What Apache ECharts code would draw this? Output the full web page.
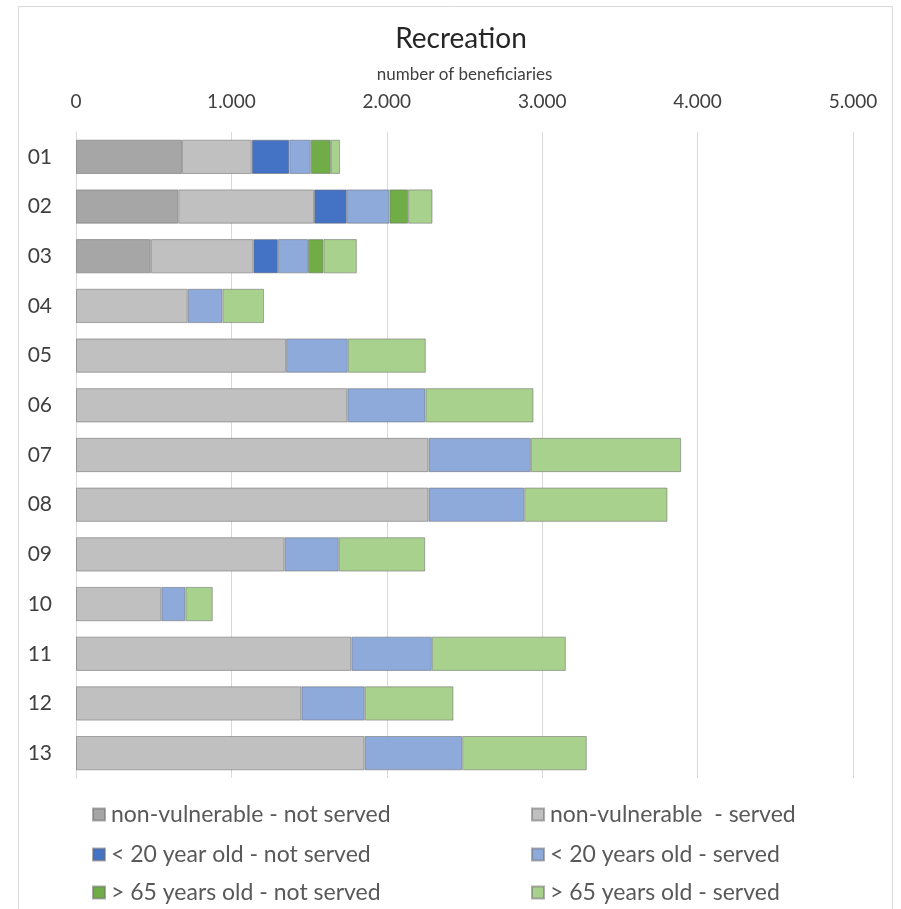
<!DOCTYPE html>
<html>
<head>
<meta charset="utf-8">
<script src="https://cdn.jsdelivr.net/npm/echarts@6/dist/echarts.min.js"></script>
<style>
html,body{margin:0;padding:0;background:#fff;}
#chart{width:901px;height:909px;}
</style>
</head>
<body>
<div id="chart"></div>
<script>
const categories = ['01','02','03','04','05','06','07','08','09','10','11','12','13'];
const seriesNames = ['non-vulnerable - not served','non-vulnerable  - served','< 20 year old - not served','< 20 years old - served','> 65 years old - not served','> 65 years old - served'];
const nonVulnNotServed = [682, 658, 481, null, null, null, null, null, null, null, null, null, null];
const nonVulnServed    = [449, 874, 660, 719, 1352, 1746, 2268, 2268, 1341, 549, 1772, 1450, 1856];
const under20NotServed = [242, 211, 159, null, null, null, null, null, null, null, null, null, null];
const under20Served    = [138, 274, 193, 223, 397, 503, 659, 616, 350, 155, 518, 408, 629];
const over65NotServed  = [129, 120, 99, null, null, null, null, null, null, null, null, null, null];
const over65Served     = [59, 157, 215, 268, 502, 695, 967, 922, 556, 176, 862, 571, 802];
const xTicks = [0, 1000, 2000, 3000, 4000, 5000];

const colors = ['#a6a6a6','#c0c0c0','#4472c4','#8eaadb','#70ad47','#a9d18e'];
const values = [nonVulnNotServed, nonVulnServed, under20NotServed, under20Served, over65NotServed, over65Served];

const chart = echarts.init(document.getElementById('chart'), null, {renderer:'canvas'});
const font = 'Lato, "Open Sans", sans-serif';
const legendPos = [[87,798],[526,798],[87,838],[526,838],[87,876],[526,876]];

chart.setOption({
  animation:false,
  backgroundColor:'#fff',
  textStyle:{fontFamily:font},
  title:{
    text:'Recreation', left:456, top:20, textAlign:'center',
    textStyle:{fontSize:28, fontWeight:'normal', color:'#262626', fontFamily:font}
  },
  graphic:[{
    type:'rect', shape:{x:18.5, y:6.5, width:874, height:920},
    style:{fill:'none', stroke:'#d9d9d9', lineWidth:1}, silent:true
  }],
  legend: seriesNames.map((n,i)=>({
    data:[n], left:legendPos[i][0], top:legendPos[i][1],
    itemWidth:12, itemHeight:12, icon:'rect', itemGap:0,
    textStyle:{fontSize:23, color:'#595959', fontFamily:font, padding:[0,0,0,1]}
  })),
  grid:{left:76, right:48, top:132, bottom:131, containLabel:false},
  xAxis:{
    type:'value', position:'top', min:0, max:5000, interval:1000,
    name:'number of beneficiaries', nameLocation:'middle', nameGap:49,
    nameTextStyle:{fontSize:17, color:'#404040', fontFamily:font},
    axisLine:{show:false}, axisTick:{show:false},
    axisLabel:{fontSize:19, color:'#404040', margin:21, fontFamily:font,
      formatter:(v)=> xTicks.indexOf(v) >= 0 ? (v===0 ? '0' : (v/1000)+'.000') : ''},
    splitLine:{show:true, lineStyle:{color:'#d9d9d9', width:1}}
  },
  yAxis:{
    type:'category', data:categories, inverse:true,
    axisLine:{show:true, lineStyle:{color:'#d9d9d9'}}, axisTick:{show:false},
    axisLabel:{fontSize:21, color:'#404040', margin:24, fontFamily:font}
  },
  series: seriesNames.map((n,i)=>({
    name:n, type:'bar', stack:'total', data:values[i],
    barCategoryGap:'31%',
    itemStyle:{color:colors[i], borderColor:'rgba(110,110,110,0.55)', borderWidth:1}
  }))
});
</script>
</body>
</html>
